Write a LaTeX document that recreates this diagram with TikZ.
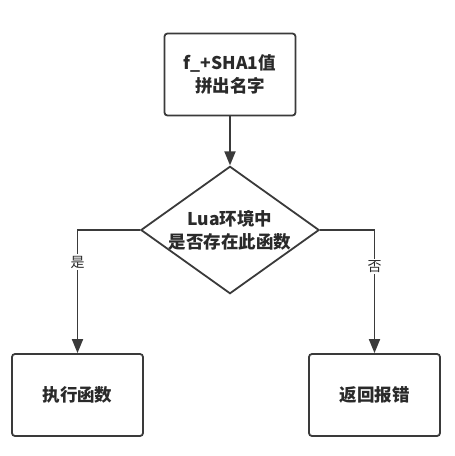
\documentclass[tikz,border=0pt]{standalone}
\usepackage{fontspec}
\usetikzlibrary{arrows.meta,shapes.geometric}
\newfontfamily\cjk{Noto Sans CJK SC}
\definecolor{linegray}{HTML}{3A3A3A}
\definecolor{textgray}{HTML}{2A2A2A}
\tikzset{
  procbox/.style={draw=linegray, line width=1.8pt, rounded corners=3pt, fill=white,
    minimum width=131pt, minimum height=82pt, align=center, text=textgray,
    font=\cjk\bfseries\fontsize{17.5}{23}\selectfont, inner sep=0pt},
  decision/.style={draw=linegray, line width=1.8pt, diamond, aspect=1.4, fill=white,
    minimum width=174pt, minimum height=124pt, align=center, text=textgray,
    font=\cjk\bfseries\fontsize{17.5}{23}\selectfont, inner sep=0pt},
  flow/.style={draw=linegray, line width=1.8pt, -{Triangle[length=14pt,width=11pt]}},
  branch/.style={fill=white, text=textgray, font=\cjk\fontsize{14}{16}\selectfont, inner sep=1.5pt}
}
\begin{document}
\begin{tikzpicture}[x=1pt,y=-1pt]
  \useasboundingbox (0,0) rectangle (455,456);
  \node[procbox] (name) at (230,74.5) {f\_+SHA1值\\拼出名字};
  \node[decision] (check) at (230,230) {Lua环境中\\是否存在此函数};
  \node[procbox] (run) at (77.5,395) {执行函数};
  \node[procbox] (err) at (374.5,395) {返回报错};
  \draw[flow] (name) -- (check);
  \draw[flow] (check.west) -| node[branch, pos=0.63] {是} (run.north);
  \draw[flow] (check.east) -| node[branch, pos=0.65] {否} (err.north);
\end{tikzpicture}
\end{document}
